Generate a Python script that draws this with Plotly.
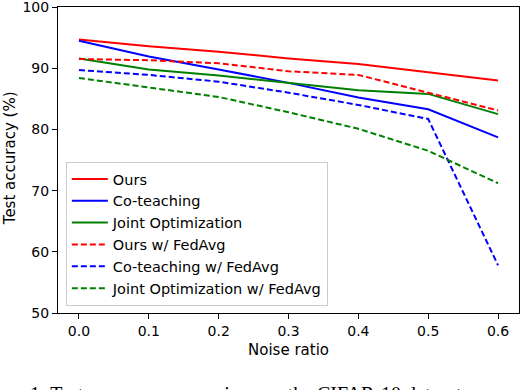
"""Test accuracy vs. noise ratio, CIFAR-10 comparison."""

import plotly.graph_objects as go

noise_ratio = [0.0, 0.1, 0.2, 0.3, 0.4, 0.5, 0.6]

ours = [94.7, 93.6, 92.7, 91.6, 90.7, 89.3, 88.0]
coteaching = [94.5, 91.9, 89.8, 87.6, 85.2, 83.3, 78.7]
joint_opt = [91.6, 89.8, 88.8, 87.6, 86.4, 85.8, 82.5]
ours_fedavg = [91.5, 91.3, 90.8, 89.5, 88.9, 86.0, 83.1]
coteaching_fedavg = [89.7, 88.9, 87.8, 86.0, 84.0, 81.7, 57.8]
joint_opt_fedavg = [88.4, 86.9, 85.3, 82.8, 80.1, 76.5, 71.2]

x_ticks = [0.0, 0.1, 0.2, 0.3, 0.4, 0.5, 0.6]
y_ticks = [50, 60, 70, 80, 90, 100]

_FONT = "DejaVu Sans"
_DASH = "6px,3px"

series = [
    ("Ours", ours, "#ff0000", "solid"),
    ("Co-teaching", coteaching, "#0000ff", "solid"),
    ("Joint Optimization", joint_opt, "#008000", "solid"),
    ("Ours w/ FedAvg", ours_fedavg, "#ff0000", _DASH),
    ("Co-teaching w/ FedAvg", coteaching_fedavg, "#0000ff", _DASH),
    ("Joint Optimization w/ FedAvg", joint_opt_fedavg, "#008000", _DASH),
]

fig = go.Figure()
for name, values, color, dash in series:
    fig.add_trace(go.Scatter(
        x=noise_ratio, y=values,
        mode="lines",
        name=name,
        line=dict(color=color, width=2, dash=dash),
    ))

fig.update_layout(
    width=520, height=390,
    paper_bgcolor="white",
    plot_bgcolor="white",
    margin=dict(l=58, r=1, t=7, b=77),
    font=dict(family=_FONT, size=14, color="black"),
    legend=dict(
        x=0.017, y=0.023, xanchor="left", yanchor="bottom",
        bgcolor="rgba(255,255,255,0.8)",
        bordercolor="#cccccc", borderwidth=1,
        font=dict(family=_FONT, size=14.5, color="black"),
        tracegroupgap=0, itemwidth=36,
    ),
    annotations=[
        # y-axis title, placed by hand so it sits as far left as the reference
        dict(
            text="Test accuracy (%)",
            xref="paper", yref="paper",
            x=-0.104, y=0.506, xanchor="center", yanchor="middle",
            textangle=-90, showarrow=False,
            font=dict(family=_FONT, size=15, color="black"),
        ),
        # top of the cropped figure caption
        dict(
            text="1: Test accuracy comparison on the CIFAR-10 dataset",
            xref="paper", yref="paper",
            x=-0.065, y=-0.221, xanchor="left", yanchor="top",
            showarrow=False,
            font=dict(family="Liberation Serif", size=20, color="black"),
        ),
    ],
)

fig.update_xaxes(
    range=[-0.03, 0.63],
    tickvals=x_ticks, tickformat=".1f",
    tickfont=dict(size=14),
    ticks="outside", ticklen=5, tickcolor="black",
    showline=True, linecolor="black", linewidth=1, mirror=True,
    showgrid=False, zeroline=False, automargin=False,
    title=dict(text="Noise ratio", standoff=6, font=dict(size=15)),
)
fig.update_yaxes(
    range=[50, 100],
    tickvals=y_ticks,
    tickfont=dict(size=14),
    ticklabeloverflow="allow",
    ticks="outside", ticklen=5, tickcolor="black",
    showline=True, linecolor="black", linewidth=1, mirror=True,
    showgrid=False, zeroline=False, automargin=False,
)

# drop the browser's default 8px body margin so the figure sits at 0,0
fig.write_html(
    "out.html",
    config={"displayModeBar": False},
    post_script="document.body.style.margin='0';",
)
